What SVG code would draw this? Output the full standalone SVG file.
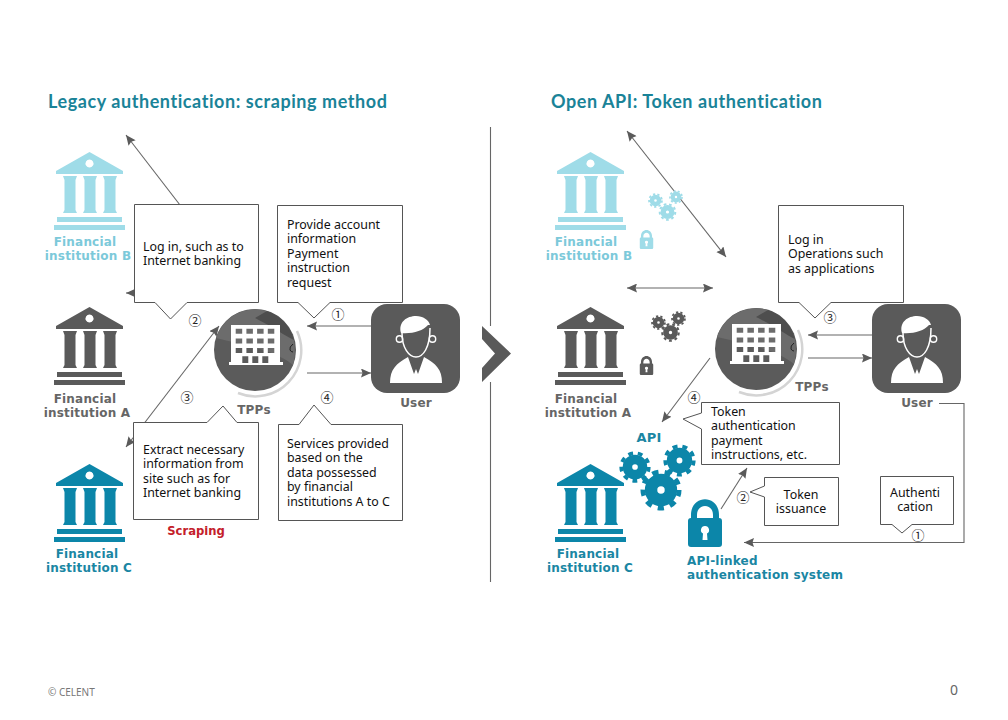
<svg xmlns="http://www.w3.org/2000/svg" width="1008" height="720" viewBox="0 0 1008 720">
<style>
.title{font:700 18px Lato,"Liberation Sans",sans-serif;fill:#1a8398;letter-spacing:.57px}
.lb{font:700 12px "DejaVu Sans",sans-serif;text-anchor:middle;letter-spacing:.2px}
.lg{fill:#7cc9da}.dk{fill:#666}.tl{fill:#1a86a3}
.i-lg{fill:#9fdce8}.i-dk{fill:#5a5a5a}.i-tl{fill:#0c86a9}
.t{font:12.4px "Noto Sans",sans-serif;fill:#111}
.m{text-anchor:middle}
.n{font:13px "Noto Sans CJK JP","DejaVu Sans",sans-serif;fill:#222;text-anchor:middle}
.box{fill:#fff;stroke:#555;stroke-width:1}
.ln{stroke:#666;stroke-width:1.1;fill:none}
.a{marker-end:url(#ah)}
.d{marker-start:url(#as);marker-end:url(#ah)}
.wh{fill:#fff}
</style>
<defs>
<marker id="ah" markerUnits="userSpaceOnUse" markerWidth="11" markerHeight="10" refX="10" refY="4.500" orient="auto"><path d="M0 0L10 4.500L0 9L1.500 4.500Z" fill="#5a5a5a"/></marker>
<marker id="as" markerUnits="userSpaceOnUse" markerWidth="11" markerHeight="10" refX="0" refY="4.500" orient="auto"><path d="M10 0L0 4.500L10 9L8.500 4.500Z" fill="#5a5a5a"/></marker>
<symbol id="bank" viewBox="0 0 72 80" width="72" height="80" overflow="visible">
<path fill-rule="evenodd" d="M35.500 0L69 19V22H2V19ZM35.500 7.500a4 4 0 1 0 .01 0Z"/>
<path d="M9 24H23L21.500 28V58L23 61H9L10.500 58V28ZM29 24H43L41.500 28V58L43 61H29L30.500 58V28ZM49 24H63L61.500 28V58L63 61H49L50.500 58V28Z"/>
<rect x="3" y="65" width="65" height="5"/><rect x="0" y="73" width="71" height="5"/>
</symbol>
<symbol id="gear" viewBox="-13 -13 26 26" overflow="visible">
<circle r="6.150" fill="none" stroke="currentColor" stroke-width="7.700"/>
<circle r="11.200" fill="none" stroke="currentColor" stroke-width="3" stroke-dasharray="3.910 3.910"/>
</symbol>
<symbol id="lock" viewBox="0 0 34 48" overflow="visible">
<path d="M3 22V16C3 -5 31 -5 31 16V22H25V16C25 4 9 4 9 16V22Z"/>
<path fill-rule="evenodd" d="M3 19H31Q34 19 34 22V45Q34 48 31 48H3Q0 48 0 45V22Q0 19 3 19ZM17 27a4 4 0 0 0-2 7.500L14.500 41H19.500L19 34.500A4 4 0 0 0 17 27Z"/>
</symbol>
<symbol id="building" viewBox="0 0 56 40" overflow="visible">
<path class="wh" fill-rule="evenodd" d="M2 0H51V37H54V40H0V37H2ZM6.700 3.700V8.700H13.200V3.700ZM17.400 3.700V8.700H23.900V3.700ZM28.100 3.700V8.700H34.600V3.700ZM38.800 3.700V8.700H45.300V3.700ZM6.700 13.500V18.500H13.200V13.500ZM17.400 13.500V18.500H23.900V13.500ZM28.100 13.500V18.500H34.600V13.500ZM38.800 13.500V18.500H45.300V13.500ZM6.700 23V28H13.200V23ZM17.400 23V28H23.900V23ZM28.100 23V28H34.600V23ZM38.800 23V28H45.300V23ZM13.300 31.300V38H19.300V31.300ZM23.300 31.300V38H29.300V31.300ZM33.300 31.300V38H39.300V31.300Z"/>
</symbol>
<symbol id="person" viewBox="0 0 52 68" overflow="visible">
<path class="wh" d="M0 67C0 53 6 48 18 41L24 58L26 53L28 58L34 41C46 48 52 53 52 67Z"/>
<path class="wh" d="M11 17C8 6 17 0 26 0C33 0 39 4 40 9L38 9C33 15 22 18 11 17Z"/>
<path d="M12 17C12 32 19 41 26 41C33 41 40 32 40 12" fill="none" stroke="#fff" stroke-width="1.500"/>
<circle cx="9.500" cy="23" r="3.200" fill="none" stroke="#fff" stroke-width="1.400"/>
<circle cx="42.500" cy="23" r="3.200" fill="none" stroke="#fff" stroke-width="1.400"/>
</symbol>
<symbol id="tppdisc" viewBox="0 0 100 100" overflow="visible">
<path d="M92 31A46 46 0 0 1 33 93" fill="none" stroke="#d4d4d4" stroke-width="2.500"/>
<circle cx="50" cy="50" r="41" fill="#5b5b5b"/>
<path d="M11 38A41 41 0 0 1 62 11L88 36C90 45 91 55 88 65C70 50 40 45 11 38Z" fill="#6c6c6c"/>
<path d="M62 11A41 41 0 0 1 89 40C80 36 70 28 50 18Z" fill="#4e4e4e"/>
<path d="M88 44Q84 47 85 50Q86 52 88 52" fill="none" stroke="#222" stroke-width="1"/>
</symbol>
</defs>

<rect width="1008" height="720" fill="#fff"/>
<text class="title" x="48" y="108">Legacy authentication: scraping method</text>
<text class="title" x="551" y="108">Open API: Token authentication</text>

<g id="divider"><path d="M490.500 127V326M490.500 382V582" stroke="#666" stroke-width="1.100"/><path d="M482 326L511 353.500L482 382V368L495 353.500L482 339Z" fill="#5a5a5a"/></g>

<g id="connectors">
<path class="ln" marker-start="url(#as)" d="M126 135L190 218"/>
<path class="ln" marker-end="url(#ah)" d="M180 293L126 293"/>
<path class="ln d" d="M126 447L219 326"/>
<path class="ln a" d="M371 326L307 326"/>
<path class="ln a" d="M307 373L371 373"/>
<path class="ln d" d="M627 131L726 257"/>
<path class="ln d" d="M627 288L713 288"/>
<path class="ln a" d="M872 335L808 335"/>
<path class="ln a" d="M808 358L872 358"/>
<path class="ln a" d="M710 358L662 422"/>
<path class="ln a" d="M721 509L747 468"/>
<path class="ln a" d="M939 403.500H964V542.500H744"/>
</g>

<g id="bank-b-left"><use class="i-lg" href="#bank" x="54" y="152"/><text class="lb lg"><tspan x="85" y="246">Financial</tspan><tspan x="88" y="260">institution B</tspan></text></g>
<g id="bank-a-left"><use class="i-dk" href="#bank" x="54" y="307"/><text class="lb dk"><tspan x="85" y="403">Financial</tspan><tspan x="87" y="417">institution A</tspan></text></g>
<g id="bank-c-left"><use class="i-tl" href="#bank" x="54" y="464"/><text class="lb tl"><tspan x="87" y="558">Financial</tspan><tspan x="89" y="572">institution C</tspan></text></g>
<g id="bank-b-right"><use class="i-lg" href="#bank" x="555" y="152"/><text class="lb lg"><tspan x="586" y="246">Financial</tspan><tspan x="589" y="260">institution B</tspan></text></g>
<g id="bank-a-right"><use class="i-dk" href="#bank" x="555" y="307"/><text class="lb dk"><tspan x="586" y="403">Financial</tspan><tspan x="588" y="417">institution A</tspan></text></g>
<g id="bank-c-right"><use class="i-tl" href="#bank" x="555" y="464"/><text class="lb tl"><tspan x="588" y="558">Financial</tspan><tspan x="590" y="572">institution C</tspan></text></g>

<g id="tpp-left"><use href="#tppdisc" x="205" y="300" width="100" height="100"/><use href="#building" x="229" y="325" width="56" height="40"/><text class="lb dk" x="254" y="414">TPPs</text></g>
<g id="tpp-right"><use href="#tppdisc" x="706" y="299" width="100" height="100"/><use href="#building" x="730" y="324" width="56" height="40"/><text class="lb dk" x="812" y="391">TPPs</text></g>
<g id="user-left"><rect x="371" y="304" width="89" height="89" rx="16" fill="#5a5a5a"/><use href="#person" x="390" y="316" width="52" height="68"/><text class="lb dk" x="416" y="407">User</text></g>
<g id="user-right"><rect x="872" y="304" width="89" height="89" rx="16" fill="#5a5a5a"/><use href="#person" x="891" y="316" width="52" height="68"/><text class="lb dk" x="917" y="407">User</text></g>

<g id="callout-login"><path class="box" d="M134.500 204.500H258.500V302.500H187L170.500 319L155 302.500H134.500Z"/><text class="t"><tspan x="143" y="251">Log in, such as to</tspan><tspan x="143" y="265">Internet banking</tspan></text></g>
<g id="callout-provide"><path class="box" d="M277.500 205.500H402.500V302.500H330L314 318L298 302.500H277.500Z"/><text class="t"><tspan x="287" y="229">Provide account</tspan><tspan x="287" y="243">information</tspan><tspan x="287" y="258">Payment</tspan><tspan x="287" y="272">instruction</tspan><tspan x="287" y="287">request</tspan></text></g>
<g id="callout-extract"><path class="box" d="M133.500 422.500H207L223 406L237 422.500H258.500V519.500H133.500Z"/><text class="t"><tspan x="143" y="454">Extract necessary</tspan><tspan x="143" y="468">information from</tspan><tspan x="143" y="483">site such as for</tspan><tspan x="143" y="497">Internet banking</tspan></text><text class="lb" style="fill:#c4202a;letter-spacing:0;font-size:11.6px" x="196" y="535">Scraping</text></g>
<g id="callout-services"><path class="box" d="M278.500 424.500H299L314 405L331 424.500H402.500V520.500H278.500Z"/><text class="t"><tspan x="287" y="448">Services provided</tspan><tspan x="287" y="462">based on the</tspan><tspan x="287" y="477">data possessed</tspan><tspan x="287" y="491">by financial</tspan><tspan x="287" y="506">institutions A to C</tspan></text></g>
<g id="callout-operations"><path class="box" d="M778.500 205.500H903.500V302.500H831L815 318L799 302.500H778.500Z"/><text class="t"><tspan x="788" y="244">Log in</tspan><tspan x="788" y="258">Operations such</tspan><tspan x="788" y="273">as applications</tspan></text></g>
<g id="callout-token"><path class="box" d="M701.500 402.500H839.500V464.500H701.500V429L683 419L701.500 413Z"/><text class="t"><tspan x="711" y="416">Token</tspan><tspan x="711" y="430">authentication</tspan><tspan x="711" y="445">payment</tspan><tspan x="711" y="459">instructions, etc.</tspan></text></g>
<g id="callout-issuance"><path class="box" d="M764.500 477.500H838.500V525.500H764.500V497L750 492L764.500 486Z"/><text class="t m"><tspan x="801" y="499">Token</tspan><tspan x="801" y="513">issuance</tspan></text></g>
<g id="callout-auth"><path class="box" d="M880.500 476.500H953.500V524.500H912L902 533L892 524.500H880.500Z"/><text class="t m"><tspan x="915" y="497">Authenti</tspan><tspan x="915" y="511">cation</tspan></text></g>

<g id="step-numbers">
<text class="n" x="195" y="325">②</text><text class="n" x="338" y="319">①</text><text class="n" x="187" y="402">③</text><text class="n" x="327" y="402">④</text>
<text class="n" x="830" y="322">③</text><text class="n" x="694" y="402">④</text><text class="n" x="743" y="502">②</text><text class="n" x="918" y="540">①</text>
</g>

<g id="api-gears" color="#0c86a9"><use href="#gear" x="619" y="451" width="32" height="32"/><use href="#gear" x="663" y="444" width="33" height="33"/><use href="#gear" x="640" y="469" width="42" height="42"/><text class="lb tl" style="font-size:13px" x="649" y="442">API</text></g>
<g id="gears-b" color="#9fdce8"><use href="#gear" x="648" y="193" width="15" height="15"/><use href="#gear" x="669" y="190" width="14" height="14"/><use href="#gear" x="658" y="203" width="19" height="18"/></g>
<g id="gears-a" color="#5a5a5a"><use href="#gear" x="651" y="315" width="15" height="15"/><use href="#gear" x="671" y="311" width="15" height="15"/><use href="#gear" x="661" y="323" width="19" height="19"/></g>
<g id="lock-b" fill="#9fdce8"><use href="#lock" x="639" y="230" width="15" height="19"/></g>
<g id="lock-a" fill="#5a5a5a"><use href="#lock" x="639" y="356" width="15" height="19"/></g>
<g id="lock-main" fill="#0c86a9"><use href="#lock" x="688" y="499" width="34" height="48"/><text class="lb tl" style="text-anchor:start"><tspan x="687" y="565">API-linked</tspan><tspan x="687" y="579">authentication system</tspan></text></g>

<text x="48" y="696" font-family="Noto Sans,sans-serif" font-size="10" fill="#777">© CELENT</text>
<text x="954" y="695" font-family="Noto Sans,sans-serif" font-size="14" fill="#666" text-anchor="middle">0</text>
</svg>
